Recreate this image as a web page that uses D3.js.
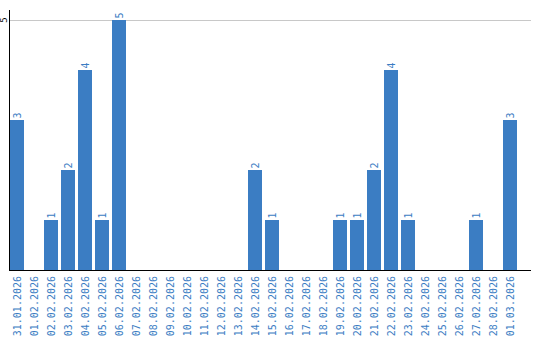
<!DOCTYPE html>
<html>
<head>
<meta charset="utf-8">
<script src="https://cdn.jsdelivr.net/npm/d3@7"></script>
<style>
  body { margin: 0; background: #fff; }
  text { font-family: "DejaVu Sans Mono", monospace; }
</style>
</head>
<body>
<div id="chart"></div>
<script>
// data
const dates = [
  '31.01.2026', '01.02.2026', '02.02.2026', '03.02.2026', '04.02.2026',
  '05.02.2026', '06.02.2026', '07.02.2026', '08.02.2026', '09.02.2026',
  '10.02.2026', '11.02.2026', '12.02.2026', '13.02.2026', '14.02.2026',
  '15.02.2026', '16.02.2026', '17.02.2026', '18.02.2026', '19.02.2026',
  '20.02.2026', '21.02.2026', '22.02.2026', '23.02.2026', '24.02.2026',
  '25.02.2026', '26.02.2026', '27.02.2026', '28.02.2026', '01.03.2026'
];
const counts = [3, 0, 1, 2, 4, 1, 5, 0, 0, 0, 0, 0, 0, 0, 2, 1, 0, 0, 0, 1, 1, 2, 4, 1, 0, 0, 0, 1, 0, 3];
const yTicks = [5];

const W = 540, H = 340;
const plotLeft = 10, axisRight = 531, plotTop = 10, base = 270;
const blue = '#3b7dc3';

const svg = d3.select('#chart').append('svg')
  .attr('width', W)
  .attr('height', H);

const x = d3.scaleBand()
  .domain(dates)
  .range([plotLeft, plotLeft + 17 * dates.length - 3])
  .paddingInner(3 / 17)
  .paddingOuter(0)
  .align(0);

const y = d3.scaleLinear()
  .domain([0, 5])
  .range([base, 20]);

// gridlines
svg.selectAll('.grid')
  .data(yTicks)
  .enter()
  .append('line')
  .attr('x1', plotLeft)
  .attr('x2', axisRight)
  .attr('y1', d => y(d) + 0.5)
  .attr('y2', d => y(d) + 0.5)
  .attr('stroke', '#c8c8c8')
  .attr('stroke-width', 1);

// y tick labels
svg.selectAll('.ytick')
  .data(yTicks)
  .enter()
  .append('text')
  .attr('transform', d => `translate(7,${y(d)}) rotate(-90)`)
  .attr('text-anchor', 'middle')
  .attr('font-size', 9)
  .attr('fill', '#000')
  .text(d => d);

// bars
const data = dates.map((d, i) => ({ date: d, value: counts[i] }));

svg.selectAll('rect')
  .data(data.filter(d => d.value > 0))
  .enter()
  .append('rect')
  .attr('x', d => x(d.date))
  .attr('y', d => y(d.value))
  .attr('width', x.bandwidth())
  .attr('height', d => base - y(d.value))
  .attr('fill', blue);

// value labels
svg.selectAll('.val')
  .data(data.filter(d => d.value > 0))
  .enter()
  .append('text')
  .attr('transform', d => `translate(${x(d.date) + x.bandwidth() / 2 + 3.5},${y(d.value) - 1.5}) rotate(-90)`)
  .attr('font-size', 10)
  .attr('fill', blue)
  .text(d => d.value);

// axes lines
svg.append('line')
  .attr('x1', plotLeft - 0.5).attr('x2', plotLeft - 0.5)
  .attr('y1', plotTop).attr('y2', base + 1)
  .attr('stroke', '#000');

svg.append('line')
  .attr('x1', plotLeft - 1).attr('x2', axisRight)
  .attr('y1', base + 0.5).attr('y2', base + 0.5)
  .attr('stroke', '#000');

// x tick labels
svg.selectAll('.xtick')
  .data(dates)
  .enter()
  .append('text')
  .attr('transform', d => `translate(${x(d) + x.bandwidth() / 2 + 3.5},${base + 6}) rotate(-90)`)
  .attr('text-anchor', 'end')
  .attr('font-size', 10)
  .attr('fill', blue)
  .text(d => d);
</script>
</body>
</html>
